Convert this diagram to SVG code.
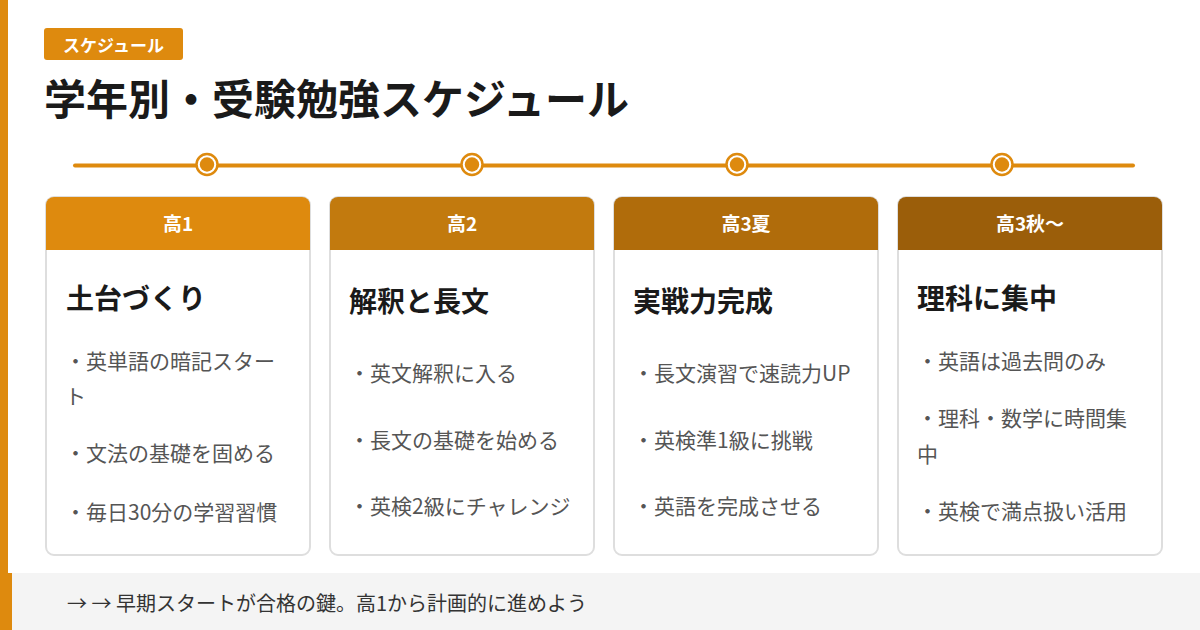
<svg xmlns="http://www.w3.org/2000/svg" width="1200" height="630" viewBox="0 0 1200 630">
<style>
text{font-family:"Noto Sans CJK JP","Noto Sans",sans-serif}
.card{fill:#fff;stroke:#dedede;stroke-width:2}
.hd{font-size:19px;font-weight:700;fill:#fff;text-anchor:middle}
.ttl{font-size:28px;font-weight:700;fill:#1a1a1a}
.itm{font-size:21px;fill:#555}
.dot-o{fill:#fff;stroke:#DE8A0E;stroke-width:2.5}
.dot-i{fill:#DE8A0E}
</style>
<rect x="0" y="0" width="1200" height="630" fill="#fff"/>
<rect x="0" y="0" width="8" height="573" fill="#DE8A0E"/>
<g id="badge">
<rect x="44" y="28" width="139" height="32" rx="3" fill="#DE8A0E"/>
<text x="113.5" y="51.5" font-size="17" font-weight="700" fill="#fff" text-anchor="middle">スケジュール</text>
</g>
<g id="title">
<text x="44" y="115" font-size="42" font-weight="700" fill="#1a1a1a">学年別・受験勉強スケジュール</text>
</g>
<g id="connectors">
<line x1="75" y1="165.5" x2="1133" y2="165.5" stroke="#DE8A0E" stroke-width="4" stroke-linecap="round"/>
<circle class="dot-o" cx="207" cy="164.5" r="10.5"/><circle class="dot-i" cx="207" cy="164.5" r="7.2"/>
<circle class="dot-o" cx="472" cy="164.5" r="10.5"/><circle class="dot-i" cx="472" cy="164.5" r="7.2"/>
<circle class="dot-o" cx="737" cy="164.5" r="10.5"/><circle class="dot-i" cx="737" cy="164.5" r="7.2"/>
<circle class="dot-o" cx="1002" cy="164.5" r="10.5"/><circle class="dot-i" cx="1002" cy="164.5" r="7.2"/>
</g>
<g id="card1">
<rect class="card" x="46" y="197" width="264" height="358" rx="8"/>
<path d="M46 250 V205 A8 8 0 0 1 54 197 H302 A8 8 0 0 1 310 205 V250 Z" fill="#DE8A0E"/>
<text class="hd" x="178" y="231">高1</text>
<text class="ttl" x="66" y="308.5">土台づくり</text>
<text class="itm" x="65" y="368.5">・英単語の暗記スター</text>
<text class="itm" x="65" y="403.5">ト</text>
<text class="itm" x="65" y="460.5">・文法の基礎を固める</text>
<text class="itm" x="65" y="519.5">・毎日30分の学習習慣</text>
</g>
<g id="card2">
<rect class="card" x="330" y="197" width="264" height="358" rx="8"/>
<path d="M330 250 V205 A8 8 0 0 1 338 197 H586 A8 8 0 0 1 594 205 V250 Z" fill="#C27A0E"/>
<text class="hd" x="462" y="231">高2</text>
<text class="ttl" x="349" y="312">解釈と長文</text>
<text class="itm" x="349" y="381">・英文解釈に入る</text>
<text class="itm" x="349" y="447.5">・長文の基礎を始める</text>
<text class="itm" x="349" y="513.5">・英検2級にチャレンジ</text>
</g>
<g id="card3">
<rect class="card" x="614" y="197" width="264" height="358" rx="8"/>
<path d="M614 250 V205 A8 8 0 0 1 622 197 H870 A8 8 0 0 1 878 205 V250 Z" fill="#B06C0B"/>
<text class="hd" x="746" y="231">高3夏</text>
<text class="ttl" x="633" y="312">実戦力完成</text>
<text class="itm" x="633" y="381">・長文演習で速読力UP</text>
<text class="itm" x="633" y="447.5">・英検準1級に挑戦</text>
<text class="itm" x="633" y="513.5">・英語を完成させる</text>
</g>
<g id="card4">
<rect class="card" x="898" y="197" width="264" height="358" rx="8"/>
<path d="M898 250 V205 A8 8 0 0 1 906 197 H1154 A8 8 0 0 1 1162 205 V250 Z" fill="#9B5E0A"/>
<text class="hd" x="1030" y="231">高3秋〜</text>
<text class="ttl" x="917" y="308.5">理科に集中</text>
<text class="itm" x="917" y="369">・英語は過去問のみ</text>
<text class="itm" x="917" y="425.5">・理科・数学に時間集</text>
<text class="itm" x="917" y="461.5">中</text>
<text class="itm" x="917" y="518.5">・英検で満点扱い活用</text>
</g>
<g id="footer">
<rect x="0" y="573" width="1200" height="57" fill="#f4f4f4"/>
<rect x="0" y="573" width="12" height="57" fill="#DE8A0E"/>
<text x="67" y="610.5" font-size="20" fill="#333">→ → 早期スタートが合格の鍵。高1から計画的に進めよう</text>
</g>
</svg>
